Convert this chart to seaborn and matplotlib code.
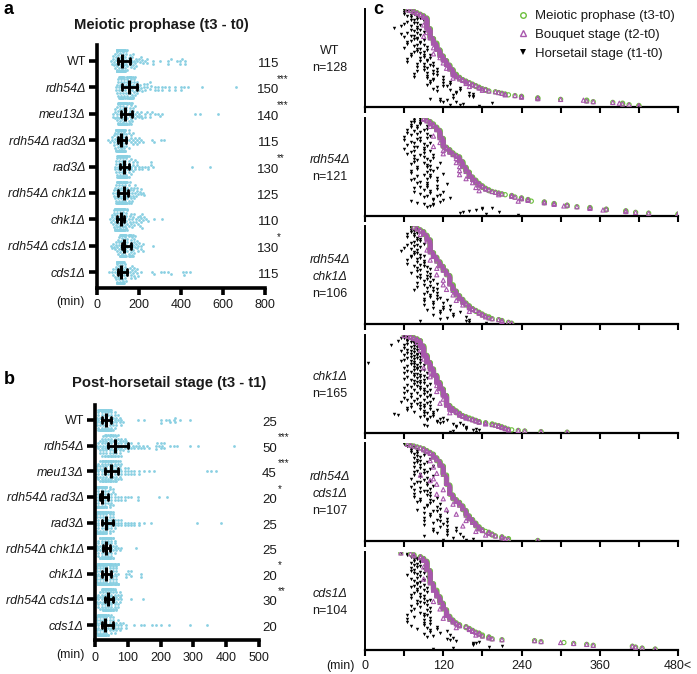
import warnings
warnings.filterwarnings("ignore")
import numpy as np
import pandas as pd
import matplotlib
matplotlib.use("Agg")
import matplotlib.pyplot as plt
from matplotlib.lines import Line2D
import seaborn as sns

sns.set_theme(style="ticks")
plt.rcParams["font.family"] = ["Liberation Sans", "DejaVu Sans"]
plt.rcParams["text.color"] = "#1a1a1a"

# ---------------- data ----------------
STRAINS = ["WT", "rdh54Δ", "meu13Δ", "rdh54Δ rad3Δ", "rad3Δ",
           "rdh54Δ chk1Δ", "chk1Δ", "rdh54Δ cds1Δ", "cds1Δ"]
MED_A = ["115", "150", "140", "115", "130", "125", "110", "130", "115"]
STAR_A = ["", "***", "***", "", "**", "", "", "*", ""]
MED_B = ["25", "50", "45", "20", "25", "25", "20", "30", "20"]
STAR_B = ["", "***", "***", "*", "", "", "*", "**", ""]
TICKS_A = [0, 200, 400, 600, 800]
TICKS_B = [0, 100, 200, 300, 400, 500]
TICKS_C = [0, 60, 120, 180, 240, 300, 360, 420, 480]
TICKLAB_C = ["0", "", "120", "", "240", "", "360", "", "480<"]

# t3 - t0 (meiotic prophase, min): value / count runs, cells sorted ascending
WT_T3_V = [65, 70, 75, 80, 85, 90, 95, 100, 105, 110, 115, 120, 125, 130, 135, 140, 145, 150, 155, 160,
           165, 170, 175, 180, 185, 190, 200, 205, 210, 215, 220, 230, 240, 265, 300, 340, 350, 380, 395, 405, 420]
WT_T3_N = [1, 1, 2, 2, 2, 3, 14, 13, 6, 9, 8, 6, 6, 6, 6, 4, 3, 2, 2, 2,
           2, 2, 2, 1, 2, 1, 1, 1, 1, 1, 1, 1, 2, 2, 1, 2, 1, 1, 2, 1, 2]
RDH_T3_V = [90, 95, 100, 105, 110, 115, 120, 125, 130, 135, 140, 145, 150, 155, 160, 165, 170, 175, 180, 185,
            190, 195, 200, 205, 210, 215, 225, 230, 240, 250, 255, 275, 290, 310, 325, 345, 370, 400, 415, 435, 500, 660]
RDH_T3_N = [2, 2, 3, 4, 4, 10, 11, 3, 4, 3, 2, 6, 7, 6, 6, 4, 4, 3, 3, 2,
            2, 1, 1, 1, 1, 1, 2, 1, 2, 2, 1, 2, 2, 2, 1, 2, 2, 2, 1, 1, 1, 1]
RCHK_T3_V = [75, 80, 85, 90, 95, 100, 105, 110, 115, 120, 125, 130, 135, 140, 145, 150, 155, 160, 165, 170,
             175, 180, 185, 190, 195, 205, 210, 220, 225]
RCHK_T3_N = [1, 2, 2, 4, 5, 14, 5, 5, 5, 5, 5, 10, 7, 5, 4, 4, 3, 3, 2, 2,
             2, 2, 1, 2, 1, 1, 2, 1, 1]
CHK_T3_V = [60, 65, 70, 75, 80, 85, 90, 95, 100, 105, 110, 115, 120, 125, 130, 135, 140, 145, 150, 155,
            160, 165, 170, 175, 185, 195, 200, 205, 210, 215, 220, 225, 235, 245, 270, 310]
CHK_T3_N = [1, 1, 2, 2, 3, 9, 16, 12, 11, 11, 12, 11, 11, 17, 5, 4, 4, 4, 2, 2,
            2, 2, 2, 2, 2, 2, 1, 2, 2, 2, 1, 1, 1, 1, 1, 1]
RCDS_T3_V = [65, 70, 75, 80, 85, 90, 95, 100, 105, 110, 115, 120, 125, 130, 135, 140, 145, 150, 155, 160,
             165, 170, 175, 180, 185, 190, 195, 200, 210, 220, 265]
RCDS_T3_N = [1, 1, 1, 1, 1, 2, 2, 2, 4, 4, 5, 10, 11, 11, 5, 3, 4, 5, 6, 4,
             4, 4, 3, 2, 1, 2, 2, 1, 2, 2, 1]
CDS_T3_V = [55, 70, 75, 85, 90, 95, 100, 105, 110, 115, 120, 125, 130, 135, 140, 145, 155, 160, 165, 170,
            175, 180, 190, 195, 210, 260, 270, 305, 320, 340, 350, 410, 415, 425, 445]
CDS_T3_N = [1, 1, 2, 2, 3, 10, 14, 7, 7, 7, 7, 7, 4, 3, 2, 2, 2, 2, 2, 1,
            2, 2, 2, 1, 1, 1, 1, 1, 1, 1, 1, 1, 1, 1, 1]
MEU_T3_V = [75, 85, 95, 100, 105, 110, 115, 120, 125, 130, 135, 140, 145, 150, 155, 160, 165, 170, 180, 190,
            200, 210, 215, 230, 240, 250, 260, 275, 290, 300, 310, 465, 490, 575]
MEU_T3_N = [2, 3, 4, 5, 5, 6, 7, 7, 7, 7, 6, 6, 5, 5, 4, 4, 3, 3, 3, 2,
            2, 2, 1, 2, 1, 2, 1, 1, 1, 1, 1, 1, 1, 1]
RRAD_T3_V = [50, 60, 70, 80, 85, 90, 95, 100, 105, 110, 115, 120, 125, 130, 135, 140, 150, 160, 170, 180,
             190, 200, 210, 220, 260, 270, 305, 320]
RRAD_T3_N = [1, 1, 2, 3, 3, 5, 6, 8, 8, 8, 8, 7, 6, 6, 5, 4, 4, 3, 3, 2,
             2, 2, 1, 1, 1, 1, 1, 1]
RAD_T3_V = [85, 90, 95, 100, 105, 110, 115, 120, 125, 130, 135, 140, 145, 150, 160, 170, 180, 190, 200, 215,
            230, 245, 255, 265, 450, 540]
RAD_T3_N = [2, 3, 4, 5, 6, 7, 8, 8, 8, 8, 7, 6, 5, 5, 4, 3, 3, 2, 2, 2,
            1, 2, 2, 1, 1, 1]

# t3 - t1 (post-horsetail, min), per cell in the same (sorted) order as t3
WT_D = [5, 0, 10, 15, 5, 20, 10, 15, 25, 10, 20,
        10, 15, 20, 25, 5, 30, 15, 20, 35, 10, 25, 40, 15, 50,
        20, 15, 30, 25, 10, 35, 20, 45, 15, 25, 30, 40, 20,
        25, 30, 15, 35, 20, 40, 25, 45, 30, 20, 35, 15, 50, 25, 30,
        20, 35, 25, 40, 30, 45, 15, 25, 50, 30, 20, 35, 55, 25, 40, 30, 60, 20, 35, 45,
        30, 25, 40, 50, 35, 20, 45, 30, 55, 25, 40, 60, 35, 30, 45, 65, 25, 50, 40,
        30, 45, 55, 25, 60, 40, 35, 70, 50, 45, 65, 30, 75, 55, 40, 80,
        60, 45, 70, 50, 85, 65, 80, 75,
        130, 150, 200, 215, 225, 230, 240, 200, 245, 260, 290, 245]
RDH_D = [15, 5, 20, 10, 25, 30, 15,
         20, 35, 10, 25, 40, 30, 15, 45,
         25, 40, 30, 50, 20, 35, 45, 15, 55, 30, 25, 40, 60, 35, 50, 20, 45, 30, 55, 25, 40,
         50, 35, 65, 40, 55, 30, 60, 45, 70, 50, 35, 65,
         55, 40, 70, 50, 65, 45, 75, 60, 35, 80, 55, 50, 70,
         60, 45, 75, 55, 85, 50, 65, 90, 40, 70, 60, 80,
         65, 55, 90, 70, 100, 60, 85, 75, 95, 50, 80,
         70, 95, 85, 110, 75, 100, 90, 120, 80, 105,
         125, 100, 130, 115, 140, 110, 135,
         145, 130, 185, 160, 195, 200, 185, 205, 210, 230,
         150, 165, 190, 200, 240, 250, 210, 290, 315, 425]
RCHK_D = [5, 10, 0, 15, 10, 20,
          10, 15, 25, 5, 20, 30, 15, 10,
          20, 15, 25, 30, 10, 35, 20, 25, 15, 40, 30, 20, 45, 25,
          25, 30, 20, 35, 15, 40, 25, 30, 45, 20, 35, 25, 50, 30, 40,
          30, 25, 40, 20, 35, 45, 30, 55, 25, 40, 35, 50, 30, 45,
          35, 25, 40, 30, 50, 20, 45, 35, 55, 30, 40, 25, 60, 35, 45, 30, 50, 40,
          35, 45, 30, 55, 40, 25, 60, 45, 35, 50, 65, 30, 40, 55, 45, 70,
          40, 55, 30, 60, 45, 75, 50, 35, 65, 80, 45, 55, 125, 60, 40]
CHK_D = [0, 5, 10, 5, 15, 20,
         10, 15, 5, 20, 35, 10,
         15, 10, 20, 5, 25, 45, 15, 10, 20, 30, 5, 15, 25, 10, 20, 35, 15, 5, 25, 20, 10, 30,
         15, 20, 25, 10, 30, 15, 20, 35, 10, 25, 40, 20,
         95, 15, 25, 30, 10, 20, 35, 25, 15, 40, 20,
         25, 30, 15, 40, 20, 35, 10, 45, 25, 30, 20,
         20, 35, 25, 45, 15, 30, 50, 20, 40, 25, 35, 30,
         30, 25, 40, 15, 50, 35, 20, 45, 30, 55, 25,
         35, 20, 45, 30, 55, 25, 60, 40, 30, 50, 20,
         25, 40, 55, 30, 65, 20, 45, 35, 60, 50, 25, 70, 40, 30, 55, 45, 35,
         45, 30, 60, 40, 65, 35, 50, 70, 25,
         50, 35, 65, 45, 55, 100, 40, 95,
         60, 45, 70, 55, 40, 65,
         50, 70, 45, 60,
         55, 65, 40, 70, 60, 105, 50,
         65, 110, 55, 70, 60, 45,
         65, 50, 70, 110, 140, 140]
RCDS_D = [5, 0, 10, 5,
          15, 10, 20,
          15, 25, 10, 20,
          30, 15, 25, 20, 35, 10, 30, 25,
          35, 20, 40, 25, 30, 15, 45, 35, 20, 30, 40,
          25, 45, 30, 35, 50, 20, 40, 30, 55, 35, 25, 45,
          40, 30, 50, 35, 25, 60, 45, 30, 55, 40, 35,
          45, 30, 55, 40, 35, 60, 25, 50,
          40, 55, 35, 65, 45, 30, 50,
          55, 40, 60, 35, 70, 45, 50, 30, 65, 55, 40,
          60, 45, 70, 35, 55, 75, 50, 40,
          65, 50, 80, 45, 60, 35, 70,
          55, 75, 45, 65, 80, 50, 70, 110, 60, 75, 55, 65, 145]
CDS_D = [0,
         5, 10, 0, 15, 5,
         10, 15, 5, 20, 10, 25, 15,
         20, 10, 15, 25, 5, 20, 30, 15, 10, 25, 20, 35, 15, 5, 20, 30, 10, 25, 15, 20,
         25, 15, 30, 20, 35, 10, 25,
         20, 30, 15, 35, 25, 40, 20, 30, 45, 25, 15, 35, 20, 30,
         30, 40, 25, 50, 35, 20, 45, 30, 55, 25, 40, 35, 60, 30,
         40, 55, 30, 65, 45, 35, 70, 50, 40,
         55, 75, 45, 60, 80, 50, 65, 40, 70,
         60, 85, 50, 75, 95, 55, 70,
         80, 120, 95, 140, 150, 175, 185, 200, 225, 290, 340]
MEU_D_V = [0, 5, 10, 15, 20, 25, 30, 35, 40, 45, 50, 55, 60, 65, 70, 75, 80, 90, 100, 110,
           120, 135, 150, 165, 180, 340, 355, 370]
MEU_D_N = [2, 3, 4, 5, 6, 7, 7, 7, 7, 7, 7, 6, 6, 5, 5, 4, 4, 3, 3, 2,
           2, 2, 1, 1, 1, 1, 1, 1]
RRAD_D_V = [0, 5, 10, 15, 20, 25, 30, 35, 40, 45, 50, 55, 60, 70, 80, 90, 100, 110, 130, 195, 220]
RRAD_D_N = [7, 9, 10, 13, 15, 9, 8, 6, 5, 4, 4, 3, 3, 2, 2, 2, 1, 1, 2, 1, 1]
RAD_D_V = [0, 5, 10, 15, 20, 25, 30, 35, 40, 45, 50, 55, 60, 70, 80, 90, 100, 110, 120, 135,
           150, 170, 310, 385]
RAD_D_N = [4, 6, 7, 8, 9, 9, 8, 7, 6, 5, 5, 4, 4, 3, 3, 2, 2, 2, 2, 2,
           1, 1, 1, 1]

# t3 - t2 lag (bouquet end before prophase end), row: minutes; other rows 0
WT_LAG = {20: 5, 30: 5, 35: 10, 44: 5, 50: 5, 58: 10, 63: 5, 70: 5, 77: 5, 85: 5, 90: 10,
          97: 5, 101: 10, 106: 5, 112: 5, 119: 5, 123: 5}
RDH_LAG = {10: 5, 22: 10, 30: 5, 35: 15, 40: 10, 44: 15, 50: 5, 55: 10, 60: 5, 65: 10, 70: 15,
           75: 10, 80: 5, 86: 10, 90: 15, 95: 10, 103: 20, 109: 5, 114: 5}
RCHK_LAG = {8: 5, 15: 5, 25: 5, 36: 10, 45: 10, 52: 15, 58: 10, 63: 15, 68: 10, 74: 5, 80: 10,
            85: 5, 92: 10, 98: 5}
CHK_LAG = {12: 5, 25: 5, 40: 5, 55: 10, 62: 5, 70: 10, 85: 5, 95: 10, 108: 5, 115: 10,
           125: 5, 131: 10, 140: 5, 150: 10, 160: 5}
RCDS_LAG = {18: 10, 25: 15, 32: 10, 34: 40, 38: 20, 40: 25, 44: 15, 50: 10, 55: 20, 60: 15,
            66: 10, 72: 25, 77: 15, 84: 10, 90: 20, 96: 15, 100: 10, 104: 5}
CDS_LAG = {15: 5, 28: 10, 40: 5, 52: 10, 60: 5, 70: 10, 80: 15, 88: 10, 96: 5}


def runs(vals, counts):
    return np.repeat(np.asarray(vals, float), counts)


T3 = {"WT": runs(WT_T3_V, WT_T3_N), "rdh54Δ": runs(RDH_T3_V, RDH_T3_N),
      "meu13Δ": runs(MEU_T3_V, MEU_T3_N), "rdh54Δ rad3Δ": runs(RRAD_T3_V, RRAD_T3_N),
      "rad3Δ": runs(RAD_T3_V, RAD_T3_N), "rdh54Δ chk1Δ": runs(RCHK_T3_V, RCHK_T3_N),
      "chk1Δ": runs(CHK_T3_V, CHK_T3_N), "rdh54Δ cds1Δ": runs(RCDS_T3_V, RCDS_T3_N),
      "cds1Δ": runs(CDS_T3_V, CDS_T3_N)}
DUR = {"WT": np.array(WT_D, float), "rdh54Δ": np.array(RDH_D, float),
       "meu13Δ": runs(MEU_D_V, MEU_D_N), "rdh54Δ rad3Δ": runs(RRAD_D_V, RRAD_D_N),
       "rad3Δ": runs(RAD_D_V, RAD_D_N), "rdh54Δ chk1Δ": np.array(RCHK_D, float),
       "chk1Δ": np.array(CHK_D, float), "rdh54Δ cds1Δ": np.array(RCDS_D, float),
       "cds1Δ": np.array(CDS_D, float)}
LAG = {"WT": WT_LAG, "rdh54Δ": RDH_LAG, "rdh54Δ chk1Δ": RCHK_LAG, "chk1Δ": CHK_LAG,
       "rdh54Δ cds1Δ": RCDS_LAG, "cds1Δ": CDS_LAG}
PANEL_C = [("WT", ["WT"]), ("rdh54Δ", ["rdh54Δ"]), ("rdh54Δ chk1Δ", ["rdh54Δ", "chk1Δ"]),
           ("chk1Δ", ["chk1Δ"]), ("rdh54Δ cds1Δ", ["rdh54Δ", "cds1Δ"]), ("cds1Δ", ["cds1Δ"])]

df_a = pd.DataFrame([(s, v) for s in STRAINS for v in T3[s]], columns=["strain", "min"])
df_b = pd.DataFrame([(s, v) for s in STRAINS for v in DUR[s]], columns=["strain", "min"])

BLUE = "#8ad0e2"
GREEN = "#6cbf3c"
PURPLE = "#a857ad"
INK = "#1a1a1a"

# ---------------- figure ----------------
W, H = 697, 674
fig = plt.figure(figsize=(W / 100, H / 100), dpi=100)


def ax_px(l, t, r, b):
    return fig.add_axes([l / W, 1 - b / H, (r - l) / W, (b - t) / H])


def dist_panel(ax, df, xmax, ticks, meds, stars, medx, starx):
    sns.swarmplot(data=df, x="min", y="strain", order=STRAINS, orient="h", color=BLUE,
                  size=2.0, linewidth=0, ax=ax, zorder=1)
    sns.pointplot(data=df, x="min", y="strain", order=STRAINS, orient="h", estimator="median",
                  errorbar=("pi", 50), color="black", marker="|", markersize=10,
                  markeredgewidth=2.2, linestyle="none", capsize=0.22,
                  err_kws={"linewidth": 2.0}, ax=ax, zorder=5)
    ax.set_xlim(0, xmax)
    ax.set_ylim(8.6, -0.6)
    ax.set_xticks(ticks)
    ax.set_xticklabels([str(t) for t in ticks], fontsize=9, color=INK)
    ax.set_yticks(range(len(STRAINS)))
    ax.set_yticklabels(STRAINS, fontsize=9, color=INK)
    for lab in ax.get_yticklabels():
        if lab.get_text() != "WT":
            lab.set_style("italic")
    ax.set_xlabel("")
    ax.set_ylabel("")
    sns.despine(ax=ax)
    for sp in ("left", "bottom"):
        ax.spines[sp].set_linewidth(2.6)
        ax.spines[sp].set_color("black")
    ax.tick_params(axis="y", length=6, width=2.6, pad=2, color="black")
    ax.tick_params(axis="x", length=5, width=2.6, pad=3, color="black")
    for i, (m, s) in enumerate(zip(meds, stars)):
        ax.text(medx, i + 0.12, m, ha="center", va="center", fontsize=9.5, color=INK, clip_on=False)
        if s:
            ax.text(starx, i - 0.32, s, ha="left", va="center", fontsize=7, color=INK, clip_on=False)


axA = ax_px(97, 45, 265, 288)
dist_panel(axA, df_a, 800, TICKS_A, MED_A, STAR_A, 815, 858)
axB = ax_px(95, 404.6, 259, 640.4)
dist_panel(axB, df_b, 500, TICKS_B, MED_B, STAR_B, 532, 558)

fig.text(161 / W, 1 - 25 / H, "Meiotic prophase (t3 - t0)", ha="center", va="center",
         fontsize=10.6, fontweight="bold", color=INK)
fig.text(169 / W, 1 - 383 / H, "Post-horsetail stage (t3 - t1)", ha="center", va="center",
         fontsize=10.6, fontweight="bold", color=INK)
fig.text(70 / W, 1 - 302 / H, "(min)", ha="center", va="center", fontsize=9, color=INK)
fig.text(70 / W, 1 - 655 / H, "(min)", ha="center", va="center", fontsize=9, color=INK)
fig.text(340 / W, 1 - 666 / H, "(min)", ha="center", va="center", fontsize=9, color=INK)
for lab, x, y in (("a", 9, 10), ("b", 9, 379), ("c", 378, 10)):
    fig.text(x / W, 1 - y / H, lab, ha="center", va="center", fontsize=13, fontweight="bold", color="black")

# panel c
for i, (key, name_lines) in enumerate(PANEL_C):
    top = 9 + i * 108.6
    ax = ax_px(365, top, 678, top + 98)
    t3 = T3[key]
    t1 = t3 - DUR[key]
    t2 = t3.copy()
    for r, lag in LAG[key].items():
        t2[r] -= lag
    rows = np.arange(len(t3))
    sns.scatterplot(x=np.minimum(t1, 480), y=rows, marker="v", s=6, color="black",
                    linewidth=0, ax=ax, zorder=2)
    sns.scatterplot(x=np.minimum(t3, 480), y=rows, marker="o", s=9, facecolor="none",
                    edgecolor=GREEN, linewidth=0.8, ax=ax, zorder=3)
    sns.scatterplot(x=np.minimum(t2, 480), y=rows, marker="^", s=9, facecolor="none",
                    edgecolor=PURPLE, linewidth=0.8, ax=ax, zorder=4)
    ax.set_xlim(0, 480)
    ax.set_ylim(len(t3), -1)
    ax.set_yticks([])
    ax.set_xticks(TICKS_C)
    if i == len(PANEL_C) - 1:
        ax.set_xticklabels(TICKLAB_C, fontsize=9, color=INK)
    else:
        ax.set_xticklabels([])
    ax.set_xlabel("")
    ax.set_ylabel("")
    sns.despine(ax=ax)
    ax.spines["left"].set_linewidth(1.4)
    ax.spines["bottom"].set_linewidth(1.6)
    ax.spines["left"].set_color("black")
    ax.spines["bottom"].set_color("black")
    ax.tick_params(axis="x", length=4, width=1.5, pad=3, color="black")
    lines = [(n, True) for n in name_lines if n != "WT"] + [(n, False) for n in name_lines if n == "WT"]
    lines.append((f"n={len(t3)}", False))
    step = 17 / 98
    yc = 0.48
    for j, (txt, it) in enumerate(lines):
        y = yc + (len(lines) - 1) / 2 * step - j * step
        ax.text(-0.112, y, txt, transform=ax.transAxes, ha="center", va="center",
                fontsize=9, style="italic" if it else "normal", color=INK)

handles = [Line2D([], [], marker="o", ls="none", mfc="none", mec=GREEN, mew=1.0, ms=4),
           Line2D([], [], marker="^", ls="none", mfc="none", mec=PURPLE, mew=1.0, ms=4.5),
           Line2D([], [], marker="v", ls="none", mfc="black", mec="black", mew=0, ms=5)]
fig.legend(handles, ["Meiotic prophase (t3-t0)", "Bouquet stage (t2-t0)", "Horsetail stage (t1-t0)"],
           loc="upper right", bbox_to_anchor=(683 / W, 1 - 2 / H), frameon=False, fontsize=9.5,
           handlelength=0.8, handletextpad=0.5, labelspacing=0.5, borderpad=0.1)

fig.savefig("out.png", dpi=100)
